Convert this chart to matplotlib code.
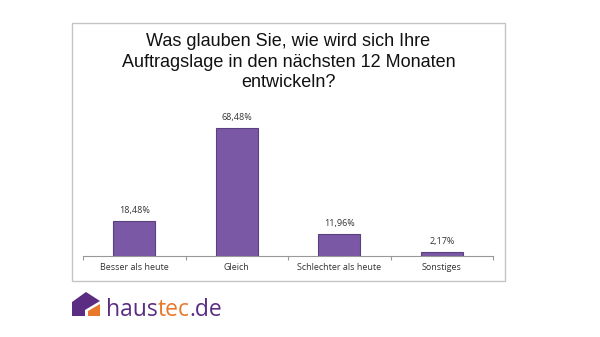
import matplotlib
matplotlib.use("Agg")
import matplotlib.pyplot as plt
from matplotlib.patches import Rectangle, Polygon

categories = ["Besser als heute", "Gleich", "Schlechter als heute", "Sonstiges"]
values = [18.48, 68.48, 11.96, 2.17]
title_lines = ["Was glauben Sie, wie wird sich Ihre",
               "Auftragslage in den nächsten 12 Monaten",
               "entwickeln?"]

W, H = 600, 337
fig = plt.figure(figsize=(6, 3.37), dpi=100)


def fx(px):
    return px / W


def fy(py):
    return 1 - py / H


# outer chart frame
fig.patches.append(Rectangle((fx(72), fy(281)), fx(505) - fx(72), fy(23) - fy(281),
                             transform=fig.transFigure, fill=False,
                             edgecolor="#c4c4c4", linewidth=1.0))

# title, one line at a time so the spacing matches
for i, line in enumerate(title_lines):
    fig.text(fx(288.5), fy(42 + 20.5 * i), line, ha="center", va="center", fontsize=13,
             family="Liberation Sans", color="#111111")

ax = fig.add_axes([fx(83), fy(256), fx(493) - fx(83), fy(110) - fy(256)])
x = range(len(categories))
ax.bar(x, values, width=0.41, color="#7a58a6", edgecolor="#59407f", linewidth=0.8)
for xi, v in zip(x, values):
    ax.text(xi, v + 3.2, f"{v:.2f}%".replace(".", ","), ha="center", va="bottom",
            fontsize=6.5, color="#333333", family="Open Sans")

ax.set_xlim(-0.5, 3.5)
ax.set_ylim(0, 78)
ax.set_xticks([i - 0.5 for i in range(5)], minor=False)
ax.set_xticklabels([])
ax.set_xticks(list(x), minor=True)
ax.set_xticklabels(categories, minor=True, fontsize=6.5, color="#333333", family="Open Sans")
ax.tick_params(axis="x", which="major", length=3, color="#999999", direction="out")
ax.tick_params(axis="x", which="minor", length=0, pad=5)
ax.set_yticks([])
for s in ["top", "right", "left"]:
    ax.spines[s].set_visible(False)
ax.spines["bottom"].set_color("#999999")
ax.patch.set_alpha(0)

# haustec.de logo
purple = "#5b2d82"
orange = "#e8792b"
house = Polygon([(fx(72), fy(316)), (fx(72), fy(302)), (fx(86), fy(292)),
                 (fx(100), fy(301)), (fx(85), fy(310)), (fx(85), fy(316))],
                closed=True, transform=fig.transFigure,
                facecolor=purple, edgecolor="none")
fig.patches.append(house)
annex = Polygon([(fx(88), fy(316)), (fx(88), fy(311)), (fx(100), fy(304)),
                 (fx(100), fy(316))], closed=True, transform=fig.transFigure,
                facecolor=orange, edgecolor="none")
fig.patches.append(annex)

t1 = fig.text(fx(106), fy(316), "haus", fontsize=16.5, color=purple,
              family="Open Sans", va="baseline", ha="left")
fig.canvas.draw()
r = fig.canvas.get_renderer()
bb = t1.get_window_extent(r)
t2 = fig.text(bb.x1 / W, fy(316), "tec", fontsize=16.5, color=orange,
              family="Open Sans", va="baseline", ha="left")
bb2 = t2.get_window_extent(r)
fig.text(bb2.x1 / W, fy(316), ".de", fontsize=16.5, color=purple,
         family="Open Sans", va="baseline", ha="left")

fig.savefig("out.png", dpi=100)
